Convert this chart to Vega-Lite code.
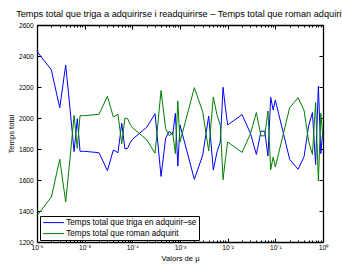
{
  "$schema": "https://vega.github.io/schema/vega-lite/v6.json",
  "width": 286,
  "height": 217,
  "autosize": {"type": "none"},
  "padding": {"left": 37, "top": 25, "right": 19, "bottom": 22},
  "background": "white",
  "title": {"text": "Temps total que triga a adquirirse i readquirirse – Temps total que roman adquirit", "font": "Liberation Sans", "fontSize": 9.2, "fontWeight": "normal", "color": "black", "anchor": "middle", "offset": 2.5},
  "config": {
    "view": {"stroke": null},
    "axis": {"labelFont": "Liberation Sans", "labelFontSize": 6.7, "labelColor": "black", "tickColor": "black", "domainColor": "black", "domainWidth": 1.3, "tickWidth": 1, "grid": false, "titleFont": "Liberation Sans", "titleFontSize": 7.6, "titleFontWeight": "normal", "titleColor": "black"}
  },
  "data": {"values": [
    {"mu": 1e-6, "triga": 2430, "roman": 1370},
    {"mu": 2e-6, "triga": 2310, "roman": 1490},
    {"mu": 3e-6, "triga": 2066, "roman": 1734},
    {"mu": 4e-6, "triga": 2342, "roman": 1458},
    {"mu": 5e-6, "triga": 2040, "roman": 1760},
    {"mu": 6e-6, "triga": 1783, "roman": 2017},
    {"mu": 7e-6, "triga": 1995, "roman": 1805},
    {"mu": 8e-6, "triga": 1785, "roman": 2015},
    {"mu": 9e-6, "triga": 1785, "roman": 2015},
    {"mu": 1e-5, "triga": 1785, "roman": 2015},
    {"mu": 2e-5, "triga": 1776, "roman": 2024},
    {"mu": 3e-5, "triga": 1660, "roman": 2140},
    {"mu": 4e-5, "triga": 1794, "roman": 2006},
    {"mu": 5e-5, "triga": 1776, "roman": 2024},
    {"mu": 6e-5, "triga": 1966, "roman": 1834},
    {"mu": 7e-5, "triga": 1800, "roman": 2000},
    {"mu": 8e-5, "triga": 1805, "roman": 1995},
    {"mu": 9e-5, "triga": 1840, "roman": 1960},
    {"mu": 1e-4, "triga": 1862, "roman": 1938},
    {"mu": 2e-4, "triga": 1940, "roman": 1860},
    {"mu": 3e-4, "triga": 2027, "roman": 1773},
    {"mu": 4e-4, "triga": 1623, "roman": 2177},
    {"mu": 5e-4, "triga": 1870, "roman": 1930},
    {"mu": 6e-4, "triga": 1915, "roman": 1885},
    {"mu": 7e-4, "triga": 1890, "roman": 1910},
    {"mu": 8e-4, "triga": 2030, "roman": 1770},
    {"mu": 9e-4, "triga": 1690, "roman": 2110},
    {"mu": 1e-3, "triga": 1955, "roman": 1845},
    {"mu": 2e-3, "triga": 1604, "roman": 2196},
    {"mu": 3e-3, "triga": 1761, "roman": 2039},
    {"mu": 4e-3, "triga": 2013, "roman": 1787},
    {"mu": 5e-3, "triga": 1664, "roman": 2136},
    {"mu": 6e-3, "triga": 1783, "roman": 2017},
    {"mu": 7e-3, "triga": 1845, "roman": 1955},
    {"mu": 8e-3, "triga": 2198, "roman": 1602},
    {"mu": 9e-3, "triga": 2060, "roman": 1740},
    {"mu": 1e-2, "triga": 1955, "roman": 1845},
    {"mu": 2e-2, "triga": 2022, "roman": 1778},
    {"mu": 3e-2, "triga": 1902, "roman": 1898},
    {"mu": 4e-2, "triga": 1765, "roman": 2035},
    {"mu": 5e-2, "triga": 1915, "roman": 1885},
    {"mu": 6e-2, "triga": 1915, "roman": 1885},
    {"mu": 7e-2, "triga": 1755, "roman": 2045},
    {"mu": 8e-2, "triga": 2133, "roman": 1667},
    {"mu": 9e-2, "triga": 2052, "roman": 1748},
    {"mu": 1e-1, "triga": 2116, "roman": 1684},
    {"mu": 2e-1, "triga": 1733, "roman": 2067},
    {"mu": 3e-1, "triga": 1669, "roman": 2131},
    {"mu": 4e-1, "triga": 1750, "roman": 2050},
    {"mu": 5e-1, "triga": 1950, "roman": 1850},
    {"mu": 6e-1, "triga": 2035, "roman": 1765},
    {"mu": 7e-1, "triga": 1700, "roman": 2100},
    {"mu": 8e-1, "triga": 2206, "roman": 1594},
    {"mu": 9e-1, "triga": 1770, "roman": 2030},
    {"mu": 1, "triga": 1930, "roman": 1870}
  ]},
  "transform": [{"fold": ["triga", "roman"], "as": ["s", "t"]}],
  "layer": [
    {
      "mark": {"type": "line", "strokeWidth": 1},
      "encoding": {
        "x": {"field": "mu", "type": "quantitative",
          "scale": {"type": "log", "domain": [1e-6, 1], "nice": false},
          "axis": {"orient": "bottom", "title": "Valors de μ", "titlePadding": 1,
            "values": [1e-6,2e-6,3e-6,4e-6,5e-6,6e-6,7e-6,8e-6,9e-6,1e-5,2e-5,3e-5,4e-5,5e-5,6e-5,7e-5,8e-5,9e-5,1e-4,2e-4,3e-4,4e-4,5e-4,6e-4,7e-4,8e-4,9e-4,1e-3,2e-3,3e-3,4e-3,5e-3,6e-3,7e-3,8e-3,9e-3,1e-2,2e-2,3e-2,4e-2,5e-2,6e-2,7e-2,8e-2,9e-2,1e-1,2e-1,3e-1,4e-1,5e-1,6e-1,7e-1,8e-1,9e-1,1],
            "labelExpr": "abs(log(datum.value)/LN10 - round(log(datum.value)/LN10)) < 0.01 ? ['10⁻⁶','10⁻⁵','10⁻⁴','10⁻³','10⁻²','10⁻¹','10⁰'][round(log(datum.value)/LN10)+6] : ''",
            "labelPadding": 6.5, "labelFlush": false, "labelOverlap": false,
            "tickSize": {"condition": {"test": "abs(log(datum.value)/LN10 - round(log(datum.value)/LN10)) < 0.01", "value": -4}, "value": -2}}},
        "y": {"field": "t", "type": "quantitative",
          "scale": {"domain": [1200, 2600], "nice": false, "zero": false},
          "axis": {"orient": "left", "title": "Temps total", "titlePadding": 3, "values": [1200,1400,1600,1800,2000,2200,2400,2600], "format": "d", "tickSize": -4, "labelPadding": 7.7}},
        "color": {"field": "s", "type": "nominal",
          "scale": {"domain": ["triga", "roman"], "range": ["#0000ff", "#008000"]},
          "legend": {"orient": "none", "legendX": 3, "legendY": 191, "title": null,
            "labelExpr": "datum.value == 'triga' ? 'Temps total que triga en adquirir–se' : 'Temps total que roman adquirit'",
            "fillColor": "white", "strokeColor": "black", "padding": 2.5, "rowPadding": 2,
            "symbolType": "M-3,0H3", "symbolSize": 49, "symbolStrokeWidth": 1, "symbolOffset": 7,
            "labelFont": "Liberation Sans", "labelFontSize": 8.2, "labelColor": "black", "labelOffset": 8.5, "labelLimit": 400}}
      }
    },
    {
      "mark": {"type": "line", "strokeOpacity": 0},
      "encoding": {
        "x": {"field": "mu", "type": "quantitative",
          "scale": {"type": "log", "domain": [1e-6, 1], "nice": false},
          "axis": {"orient": "top", "title": null, "labels": false,
            "values": [1e-6,2e-6,3e-6,4e-6,5e-6,6e-6,7e-6,8e-6,9e-6,1e-5,2e-5,3e-5,4e-5,5e-5,6e-5,7e-5,8e-5,9e-5,1e-4,2e-4,3e-4,4e-4,5e-4,6e-4,7e-4,8e-4,9e-4,1e-3,2e-3,3e-3,4e-3,5e-3,6e-3,7e-3,8e-3,9e-3,1e-2,2e-2,3e-2,4e-2,5e-2,6e-2,7e-2,8e-2,9e-2,1e-1,2e-1,3e-1,4e-1,5e-1,6e-1,7e-1,8e-1,9e-1,1],
            "tickSize": {"condition": {"test": "abs(log(datum.value)/LN10 - round(log(datum.value)/LN10)) < 0.01", "value": -4}, "value": -2}}},
        "y": {"field": "t", "type": "quantitative",
          "scale": {"domain": [1200, 2600], "nice": false, "zero": false},
          "axis": {"orient": "right", "title": null, "labels": false, "values": [1200,1400,1600,1800,2000,2200,2400,2600], "tickSize": -4}},
        "detail": {"field": "s", "type": "nominal"}
      }
    }
  ],
  "resolve": {"axis": {"x": "independent", "y": "independent"}}
}
